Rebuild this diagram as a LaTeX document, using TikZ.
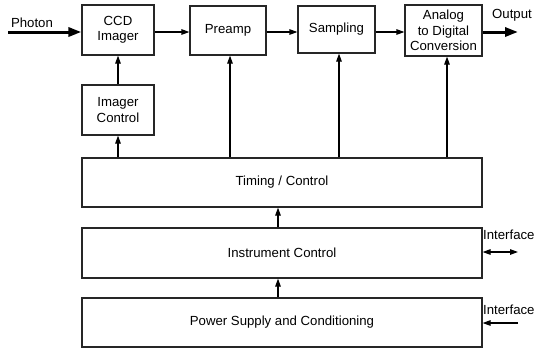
\documentclass[tikz,border=0pt]{standalone}
\usepackage{fontspec}
\setmainfont{Liberation Sans}
\usetikzlibrary{arrows.meta,calc}
\begin{document}
\begin{tikzpicture}[x=1pt,y=-1pt,
  font=\fontsize{13.2}{15.5}\selectfont,
  blk/.style={draw=black!85,line width=1.2pt,rectangle,inner sep=0pt,align=center},
  arr/.style={line width=1.2pt,-{Triangle[length=8pt,width=5.5pt]}},
  bigarr/.style={line width=3pt,-{Triangle[length=13pt,width=9pt]}},
  lbl/.style={inner sep=0pt}]
\useasboundingbox (0,0) rectangle (535,349);
% top row
\node[blk,minimum width=72pt,minimum height=50pt] (ccd) at (118,30) {CCD\\Imager};
\node[blk,minimum width=76pt,minimum height=49pt] (pre) at (228,30.5) {Preamp};
\node[blk,minimum width=77pt,minimum height=47pt] (smp) at (336.5,29.5) {Sampling};
\node[blk,minimum width=77pt,minimum height=51pt] (adc) at (443.5,30.5) {Analog\\to Digital\\Conversion};
\node[blk,minimum width=72pt,minimum height=50pt] (ictl) at (118,110) {Imager\\Control};
% wide blocks
\node[blk,minimum width=400pt,minimum height=49pt] (tim) at (282,182.5) {Timing / Control};
\node[blk,minimum width=400pt,minimum height=50pt] (ins) at (282,253) {Instrument Control};
\node[blk,minimum width=400pt,minimum height=49pt] (pwr) at (282,322.5) {Power Supply and Conditioning};
% labels
\node[lbl] (ph) at (32,23) {Photon};
\node[lbl,anchor=west] (out) at (492,15) {Output};
\node[lbl,anchor=west] (if1) at (483,235) {Interface};
\node[lbl,anchor=west] (if2) at (483,310) {Interface};
% free ends
\coordinate (phin) at (8,32);
\coordinate (outend) at (518,32);
\coordinate (ifa) at (518,252);
\coordinate (ifb) at (518,323);
% horizontal chain
\draw[bigarr] (phin) -- (phin -| ccd.west);
\draw[arr] (ccd.east |- 0,32) -- (pre.west |- 0,32);
\draw[arr] (pre.east |- 0,32) -- (smp.west |- 0,32);
\draw[arr] (smp.east |- 0,32) -- (adc.west |- 0,32);
\draw[bigarr] (adc.east |- outend) -- (outend);
% verticals
\draw[arr] (ictl.north) -- (ccd.south);
\draw[arr] (tim.north -| ictl) -- (ictl.south);
\draw[arr] ($(tim.north -| pre)+(2,0)$) -- ($(pre.south)+(2,0)$);
\draw[arr] ($(tim.north -| smp)+(2.5,0)$) -- ($(smp.south)+(2.5,0)$);
\draw[arr] ($(tim.north -| adc)+(3.5,0)$) -- ($(adc.south)+(3.5,0)$);
\draw[arr] ($(ins.north)+(-4,0)$) -- ($(tim.south)+(-4,0)$);
\draw[arr] ($(pwr.north)+(-4,0)$) -- ($(ins.south)+(-4,0)$);
% interfaces
\draw[line width=1.2pt,{Triangle[length=8pt,width=5.5pt]}-{Triangle[length=8pt,width=5.5pt]}] (ins.east |- ifa) -- (ifa);
\draw[arr] (ifb) -- (pwr.east |- ifb);
\end{tikzpicture}
\end{document}
